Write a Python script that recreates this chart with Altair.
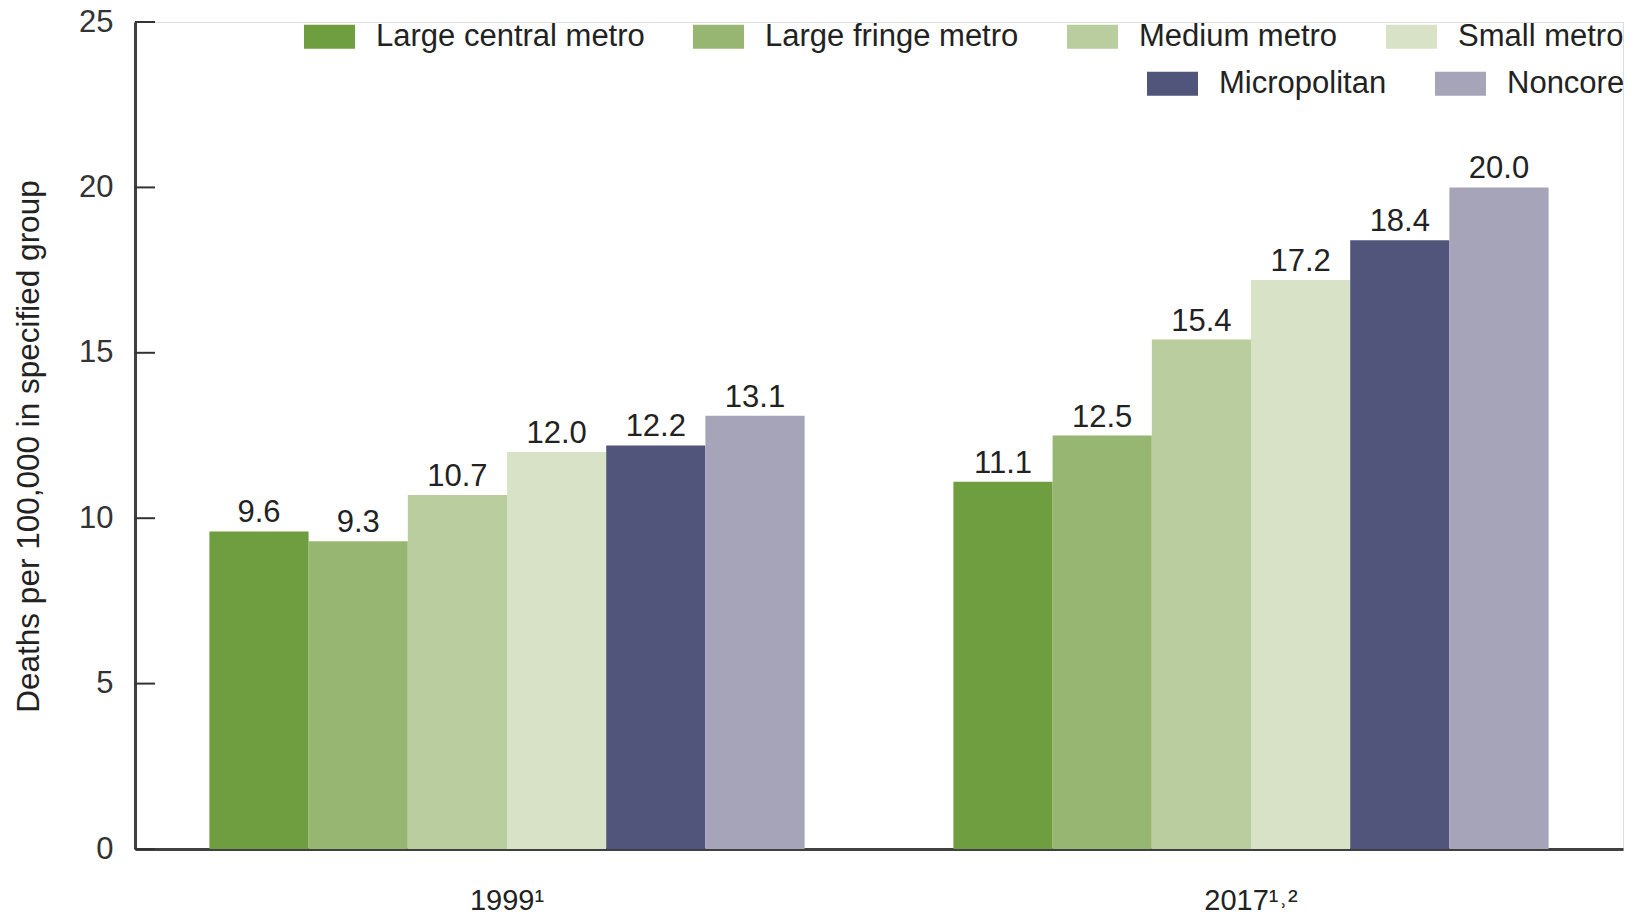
import altair as alt
import pandas as pd

years = ["1999¹", "2017¹˒²"]
categories = ["Large central metro", "Large fringe metro", "Medium metro",
              "Small metro", "Micropolitan", "Noncore"]
values_1999 = [9.6, 9.3, 10.7, 12.0, 12.2, 13.1]
values_2017 = [11.1, 12.5, 15.4, 17.2, 18.4, 20.0]
colors = ["#6e9e40", "#97b672", "#bacd9e", "#d8e2c6", "#52557b", "#a6a4b8"]
y_ticks = [0, 5, 10, 15, 20, 25]

rows = []
for yr, vals in zip(years, [values_1999, values_2017]):
    for c, v in zip(categories, vals):
        rows.append({"year": yr, "cat": c, "value": v})
df = pd.DataFrame(rows)
ticks_df = pd.DataFrame({"t": y_ticks})

FONT = "Liberation Sans"
sym = "M-1,-0.47H1V0.47H-1Z"

x_enc = alt.X("year:N", sort=years, title=None,
              scale=alt.Scale(paddingInner=0.2, paddingOuter=0.1),
              axis=alt.Axis(labelAngle=0, ticks=False, labelFontSize=29,
                            labelPadding=37, labelColor="#222",
                            domainColor="#404040", domainWidth=3, labelFont=FONT))
y_enc = alt.Y("value:Q", title="Deaths per 100,000 in specified group",
              scale=alt.Scale(domain=[0, 25], nice=False),
              axis=alt.Axis(values=y_ticks, ticks=False, grid=False,
                            labelFontSize=31, labelPadding=22, labelColor="#333",
                            titleFontSize=31.5, titleFontWeight="normal",
                            titleColor="#222", titlePadding=33, titleY=424,
                            domainColor="#404040", domainWidth=3,
                            labelFont=FONT, titleFont=FONT))
xoff = alt.XOffset("cat:N", sort=categories, scale=alt.Scale(domain=categories))

base = alt.Chart(df)

def legend(x, y, cols):
    return alt.Legend(title=None, orient="none", direction="horizontal",
                      legendX=x, legendY=y, columns=cols,
                      symbolType=sym, symbolSize=2601,
                      symbolStrokeWidth=0, labelFontSize=31,
                      labelFont=FONT, labelColor="#222",
                      labelOffset=21, columnPadding=48,
                      padding=0, labelLimit=500)

metro = base.transform_filter(
    alt.FieldOneOfPredicate(field="cat", oneOf=categories[:4])
).mark_bar().encode(
    x=x_enc, y=y_enc, xOffset=xoff,
    color=alt.Color("cat:N", sort=categories[:4],
                    scale=alt.Scale(domain=categories[:4], range=colors[:4]),
                    legend=legend(169, -11, 4)),
)

micro = base.transform_filter(
    alt.FieldOneOfPredicate(field="cat", oneOf=categories[4:])
).transform_calculate(cat2="datum.cat").mark_bar().encode(
    x=x_enc, y=y_enc, xOffset=xoff,
    color=alt.Color("cat2:N", sort=categories[4:],
                    scale=alt.Scale(domain=categories[4:], range=colors[4:]),
                    legend=legend(1012, 36, 2)),
)

labels = base.mark_text(baseline="alphabetic", dy=-9, fontSize=31, font=FONT,
                        color="#222").encode(
    x=x_enc, y=y_enc, xOffset=xoff,
    text=alt.Text("value:Q", format=".1f"),
)

tick_rules = alt.Chart(ticks_df).mark_rule(color="#333", strokeWidth=2).encode(
    y=alt.Y("t:Q", scale=alt.Scale(domain=[0, 25], nice=False)),
    x=alt.value(0), x2=alt.value(20),
)

chart = alt.layer(metro, micro, labels, tick_rules).resolve_scale(
    color="independent"
).properties(
    width=1488, height=827,
    autosize=alt.AutoSizeParams(type="none"),
    padding={"left": 127, "top": 14, "right": 12, "bottom": 67},
).configure_view(stroke=None).configure(background="white")

chart.save("out.html", embed_options={"renderer": "svg", "actions": False})
